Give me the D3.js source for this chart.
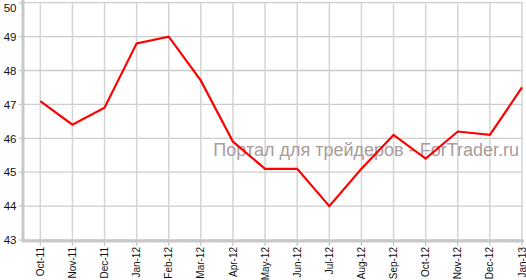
<!DOCTYPE html>
<html><head><meta charset="utf-8">
<script src="https://cdn.jsdelivr.net/npm/d3@7"></script>
<style>body{margin:0;background:#fff;}svg{display:block;}</style>
</head><body>
<svg id="c" width="526" height="280"></svg>
<script>
const categories = ["Oct-11","Nov-11","Dec-11","Jan-12","Feb-12","Mar-12","Apr-12","May-12","Jun-12","Jul-12","Aug-12","Sep-12","Oct-12","Nov-12","Dec-12","Jan-13"];
const values = [47.1,46.4,46.9,48.8,49.0,47.7,45.9,45.1,45.1,44.0,45.1,46.1,45.4,46.2,46.1,47.5];
const yTicks = [43,44,45,46,47,48,49,50];
const watermark = "Портал для трейдеров - ForTrader.ru";

const svg = d3.select("#c");
const x = d3.scalePoint().domain(categories).range([40.3, 522]);
const y = d3.scaleLinear().domain([43, 50]).range([240, 2.7]);
const font = "'Liberation Sans', Arial, sans-serif";

// horizontal grid
svg.append("g").selectAll("line").data(yTicks).join("line")
  .attr("x1", 23).attr("x2", 523)
  .attr("y1", d => y(d)).attr("y2", d => y(d))
  .attr("stroke", "#cccccc").attr("stroke-width", 1.3);
// vertical grid
svg.append("g").selectAll("line").data(categories).join("line")
  .attr("x1", d => x(d)).attr("x2", d => x(d))
  .attr("y1", y(50)).attr("y2", 240)
  .attr("stroke", "#d4d4d4").attr("stroke-width", 1.5);

// watermark
svg.append("text").attr("x", 519).attr("y", 155.5).attr("text-anchor", "end")
  .attr("font-family", font).attr("font-size", 18)
  .attr("fill", "#a89c9c").text(watermark);

// axes lines
svg.append("line").attr("x1", 23).attr("x2", 23).attr("y1", 0).attr("y2", 242)
  .attr("stroke", "#c8c8c8").attr("stroke-width", 3);
svg.append("line").attr("x1", 22).attr("x2", 524).attr("y1", 241).attr("y2", 241)
  .attr("stroke", "#c8c8c8").attr("stroke-width", 3);

// y ticks
const yg = svg.append("g");
yg.selectAll("line").data(yTicks).join("line")
  .attr("x1", 19).attr("x2", 23).attr("y1", d => y(d)).attr("y2", d => y(d))
  .attr("stroke", "#c8c8c8").attr("stroke-width", 1.3);
yg.selectAll("text").data(yTicks).join("text")
  .attr("x", 16.5).attr("y", d => Math.max(y(d) + 4.2, 11.5)).attr("text-anchor", "end")
  .attr("font-family", font).attr("font-size", 11.5).attr("fill", "#111")
  .text(d => d);

// x ticks
const xg = svg.append("g");
xg.selectAll("line").data(categories).join("line")
  .attr("x1", d => x(d)).attr("x2", d => x(d)).attr("y1", 241).attr("y2", 246)
  .attr("stroke", "#c8c8c8").attr("stroke-width", 1.3);
xg.selectAll("text").data(categories).join("text")
  .attr("transform", d => `translate(${x(d) + 3.6},247) rotate(-90)`)
  .attr("text-anchor", "end")
  .attr("font-family", font).attr("font-size", 10).attr("fill", "#111")
  .text(d => d);

// line
svg.append("path").datum(values)
  .attr("d", d3.line().x((d, i) => x(categories[i])).y(d => y(d)))
  .attr("fill", "none").attr("stroke", "#ff0000").attr("stroke-width", 2.2)
  .attr("stroke-linejoin", "miter");
</script>
</body></html>
